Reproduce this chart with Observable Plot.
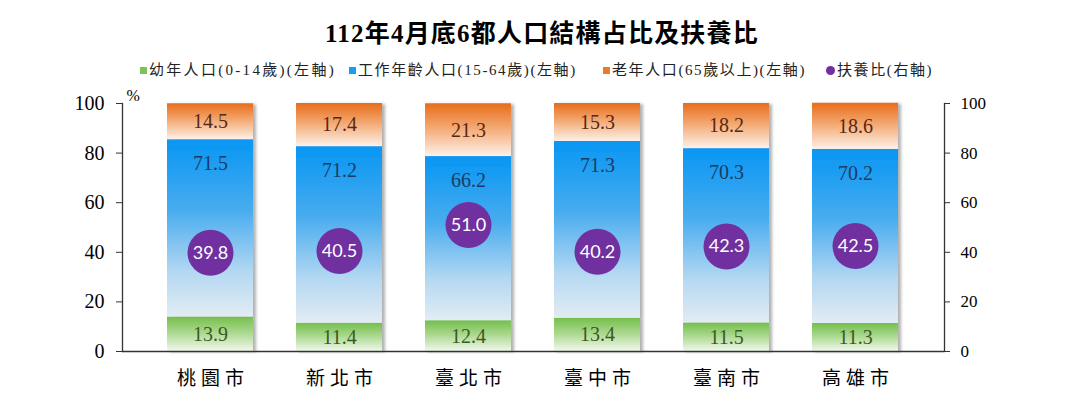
<!DOCTYPE html>
<html>
<head>
<meta charset="utf-8">
<script src="https://cdn.jsdelivr.net/npm/d3@7"></script>
<script src="https://cdn.jsdelivr.net/npm/@observablehq/plot@0.6"></script>
<style>
  html, body { margin: 0; padding: 0; background: #fff; }
  #wrap { position: relative; width: 1080px; height: 415px; overflow: hidden; }
  #title { position: absolute; left: 0; width: 1080px; top: 13px; text-align: center;
           font-family: "Liberation Serif", "Noto Sans CJK TC", serif; font-weight: bold; font-size: 25px; letter-spacing: 1.2px; color: #000; padding-left: 4px; box-sizing: border-box; }
  .lg { position: absolute; top: 60px; font-family: "Liberation Serif", "Noto Sans CJK TC", serif; font-size: 15px; color: #222; white-space: nowrap; line-height: 20px; letter-spacing: 1.6px; }
  .sw { display: inline-block; width: 7px; height: 7px; margin-right: 2px; vertical-align: 1px; }
  .dotsw { display: inline-block; width: 9px; height: 9px; border-radius: 50%; margin-right: 2px; vertical-align: 0px; background: #7030A0; }
  #chart { position: absolute; left: 0; top: 0; }
</style>
</head>
<body>
<div id="wrap">
  <div id="chart"></div>
  <div id="title"></div>
  <div id="legend"></div>
</div>
<script>
// ---- data ----
const title = "112年4月底6都人口結構占比及扶養比";
const cities = ["桃園市", "新北市", "臺北市", "臺中市", "臺南市", "高雄市"];
const young = [13.9, 11.4, 12.4, 13.4, 11.5, 11.3];
const working = [71.5, 71.2, 66.2, 71.3, 70.3, 70.2];
const old = [14.5, 17.4, 21.3, 15.3, 18.2, 18.6];
const ratio = [39.8, 40.5, 51.0, 40.2, 42.3, 42.5];
const seriesNames = ["幼年人口(0-14歲)(左軸)", "工作年齡人口(15-64歲)(左軸)", "老年人口(65歲以上)(左軸)"];
const ratioName = "扶養比(右軸)";
const yTicks = [0, 20, 40, 60, 80, 100];

// ---- styles ----
const grads = ["gGreen", "gBlue", "gOrange"];
const labelColors = ["#3d5a1e", "#1d3b66", "#5a2810"];
const swatch = ["#7cc353", "#1a9cf0", "#ec7a2a"];

document.getElementById("title").textContent = title;
const legendX = [140, 349, 603];
const legendSpacing = ["2.3px", "1.6px", "1.6px"];
const legend = document.getElementById("legend");
seriesNames.forEach((n, i) => {
  const d = document.createElement("div");
  d.className = "lg";
  d.style.left = legendX[i] + "px";
  d.style.letterSpacing = legendSpacing[i];
  d.innerHTML = `<span class="sw" style="background:${swatch[i]}"></span>${n}`;
  legend.appendChild(d);
});
{
  const d = document.createElement("div");
  d.className = "lg";
  d.style.left = "826px";
  d.innerHTML = `<span class="dotsw"></span>${ratioName}`;
  legend.appendChild(d);
}

// build stacked rows
const rows = [];
cities.forEach((c, i) => {
  const vals = [young[i], working[i], old[i]];
  let acc = 0;
  vals.forEach((v, k) => {
    rows.push({city: c, k, value: v, y1: acc, y2: acc + v});
    acc += v;
  });
});
const ratioRows = cities.map((c, i) => ({city: c, ratio: ratio[i]}));

const serif = "Liberation Serif, Times New Roman, serif";

const chart = Plot.plot({
  width: 1080,
  height: 415,
  marginTop: 103,
  marginBottom: 64,
  marginLeft: 122,
  marginRight: 136,
  style: {background: "transparent", fontFamily: serif, color: "#000", overflow: "visible"},
  x: {domain: cities, padding: 0.33, label: null},
  y: {domain: [0, 100], label: null},
  color: {type: "identity"},
  marks: [
    Plot.barY(rows, {x: "city", y1: "y1", y2: "y2", fill: d => `url(#${grads[d.k]})`, inset: 0, className: "bars"}),
    Plot.text(rows.filter(d => d.k !== 1), {x: "city", y: d => (d.y1 + d.y2) / 2, text: d => d.value.toFixed(1), fill: d => labelColors[d.k], fontSize: 20, fontFamily: serif}),
    Plot.text(rows.filter(d => d.k === 1), {x: "city", y: "y2", dy: 24, text: d => d.value.toFixed(1), fill: d => labelColors[d.k], fontSize: 20, fontFamily: serif}),
    Plot.dot(ratioRows, {x: "city", y: "ratio", r: 23, fill: "#7030A0", stroke: "none"}),
    Plot.text(ratioRows, {x: "city", y: "ratio", text: d => d.ratio.toFixed(1), fill: "white", fontSize: 18, fontFamily: "Lato, Open Sans, sans-serif"}),
    Plot.ruleY([0], {stroke: "#333", strokeWidth: 1.3}),
    Plot.frame({anchor: "left", stroke: "#333", strokeWidth: 1.3}),
    Plot.frame({anchor: "right", stroke: "#333", strokeWidth: 1.3}),
    Plot.axisY({anchor: "left", ticks: yTicks, tickSize: 6, tickPadding: 12, fontSize: 20, fontFamily: serif, stroke: "#333", label: null}),
    Plot.axisY({anchor: "right", ticks: yTicks, tickSize: 5, tickPadding: 11, fontSize: 17, fontFamily: serif, stroke: "#333", label: null}),
    Plot.axisX({tickSize: 0, tickPadding: 20, fontSize: 19, fontFamily: "Noto Sans CJK TC, sans-serif", label: null, className: "xax"}),
    Plot.text(["%"], {frameAnchor: "top-left", dx: 4, dy: -14, text: d => d, fontSize: 16, fontFamily: serif, fill: "#000"})
  ]
});

// gradients and shadow
const svg = d3.select(chart);
const defs = svg.insert("defs", ":first-child");
function grad(id, stops) {
  const g = defs.append("linearGradient").attr("id", id).attr("x1", 0).attr("y1", 0).attr("x2", 0).attr("y2", 1);
  stops.forEach(([o, c]) => g.append("stop").attr("offset", o).attr("stop-color", c));
}
grad("gGreen", [[0, "#74bf4c"], [0.45, "#a8d78c"], [1, "#f1f8ec"]]);
grad("gBlue", [[0, "#0796f3"], [0.4, "#48acef"], [0.75, "#b4d8f2"], [1, "#e2ecf3"]]);
grad("gOrange", [[0, "#e76d1b"], [0.45, "#f3a770"], [1, "#fdf1e8"]]);
const f = defs.append("filter").attr("id", "shadow").attr("x", "-10%").attr("y", "-10%").attr("width", "130%").attr("height", "120%");
f.append("feDropShadow").attr("dx", 3).attr("dy", 1).attr("stdDeviation", 1.5).attr("flood-color", "#000").attr("flood-opacity", 0.3);
svg.select("g.bars").attr("filter", "url(#shadow)");
// widen x-axis category labels
svg.selectAll("g.xax text").style("letter-spacing", "5px").attr("dx", 2.5);
document.getElementById("chart").appendChild(chart);
</script>
</body>
</html>
